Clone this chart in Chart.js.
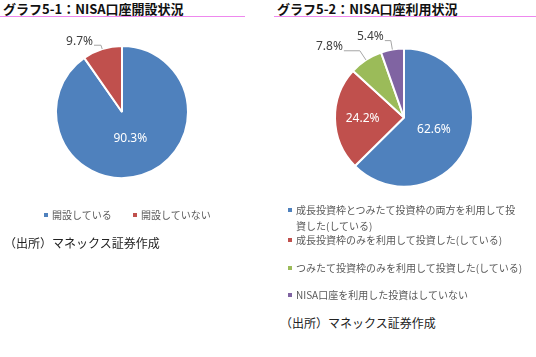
<!DOCTYPE html>
<html><head><meta charset="utf-8">
<script src="https://cdn.jsdelivr.net/npm/chart.js@4"></script>
<style>
body{margin:0;background:#fff;width:536px;height:357px;position:relative;overflow:hidden;font-family:"Noto Sans CJK JP",sans-serif;}
.title{position:absolute;top:0px;font-weight:bold;font-size:13px;color:#111;white-space:nowrap;line-height:18px;}
.rule{position:absolute;top:16px;height:1px;background:#ee88ee;}
.cv{position:absolute;}
.leg{position:absolute;font-size:10px;color:#595959;white-space:nowrap;line-height:14px;}
.mk{display:inline-block;width:4px;height:4px;margin-right:4px;vertical-align:middle;position:relative;top:-1px;}
.src{position:absolute;font-size:12px;color:#222;white-space:nowrap;}
</style></head>
<body>
<div class="title" style="left:3px">グラフ5-1：NISA口座開設状況</div>
<div class="rule" style="left:0;width:245px"></div>
<div class="title" style="left:277px">グラフ5-2：NISA口座利用状況</div>
<div class="rule" style="left:274px;width:262px"></div>
<div class="cv" style="left:0;top:25px;width:260px;height:190px"><canvas id="c1" width="260" height="190"></canvas></div>
<div class="cv" style="left:268px;top:25px;width:268px;height:180px"><canvas id="c2" width="268" height="180"></canvas></div>
<div id="leg1"></div>
<div id="leg2"></div>
<div class="src" style="left:4px;top:234px">（出所）マネックス証券作成</div>
<div class="src" style="left:280px;top:314px">（出所）マネックス証券作成</div>
<script>
const labels1 = ["開設している", "開設していない"];
const values1 = [90.3, 9.7];
const labels2 = ["成長投資枠とつみたて投資枠の両方を利用して投資した(している)", "成長投資枠のみを利用して投資した(している)", "つみたて投資枠のみを利用して投資した(している)", "NISA口座を利用した投資はしていない"];
const values2 = [62.6, 24.2, 7.8, 5.4];
const colors1 = ["#4F81BD", "#C0504D"];
const colors2 = ["#4F81BD", "#C0504D", "#9BBB59", "#8064A2"];

const pctPlugin = {
  id: 'pct',
  afterDatasetsDraw(chart, args, opts) {
    const ctx = chart.ctx;
    const meta = chart.getDatasetMeta(0);
    const data = chart.data.datasets[0].data;
    ctx.save();
    ctx.font = '12px "Noto Sans", "DejaVu Sans", sans-serif';
    meta.data.forEach((arc, i) => {
      const p = arc.getProps(['x','y','startAngle','endAngle','outerRadius'], true);
      const mid = (p.startAngle + p.endAngle) / 2;
      const dx = Math.cos(mid), dy = Math.sin(mid);
      const txt = data[i].toFixed(1) + '%';
      const cfg = opts.items[i];
      if (cfg.mode === 'in') {
        ctx.fillStyle = '#ffffff';
        ctx.textAlign = 'center';
        ctx.textBaseline = 'middle';
        ctx.fillText(txt, p.x + dx * p.outerRadius * cfg.f, p.y + dy * p.outerRadius * cfg.f);
      } else {
        const ex = p.x + dx * p.outerRadius, ey = p.y + dy * p.outerRadius;
        const bx = p.x + dx * (p.outerRadius + cfg.ext), by = p.y + dy * (p.outerRadius + cfg.ext);
        const hx = bx - cfg.h;
        ctx.strokeStyle = '#a6a6a6';
        ctx.lineWidth = 1;
        ctx.beginPath();
        ctx.moveTo(ex, ey); ctx.lineTo(bx, by); ctx.lineTo(hx, by);
        ctx.stroke();
        ctx.fillStyle = '#404040';
        ctx.textAlign = 'right';
        ctx.textBaseline = 'middle';
        ctx.fillText(txt, hx - 1, by - 4);
      }
    });
    ctx.restore();
  }
};

function makePie(id, labels, values, colors, radius, padding, items) {
  new Chart(document.getElementById(id), {
    type: 'pie',
    data: { labels: labels, datasets: [{ data: values, backgroundColor: colors, borderColor: '#ffffff', borderWidth: 2 }] },
    options: {
      responsive: false, animation: false, radius: radius,
      layout: { padding: padding },
      plugins: { legend: { display: false }, tooltip: { enabled: false }, pct: { items: items } }
    },
    plugins: [pctPlugin]
  });
}

makePie('c1', labels1, values1, colors1, 66, {left:56, right:72, top:21, bottom:37},
  [{mode:'in', f:0.42}, {mode:'out', ext:4, h:7}]);
makePie('c2', labels2, values2, colors2, 69, {left:67, right:63, top:23.5, bottom:18.5},
  [{mode:'in', f:0.47}, {mode:'in', f:0.6}, {mode:'out', ext:11, h:16}, {mode:'out', ext:9, h:6}]);

// legends
const leg1 = document.getElementById('leg1');
const pos1 = [44, 133];
labels1.forEach((l, i) => {
  const d = document.createElement('div');
  d.className = 'leg';
  d.style.left = (pos1[i]) + 'px'; d.style.top = '208px';
  d.innerHTML = '<span class="mk" style="background:' + colors1[i] + '"></span>' + l;
  leg1.appendChild(d);
});
const leg2 = document.getElementById('leg2');
const tops2 = [202, 232, 260, 287];
labels2.forEach((l, i) => {
  const d = document.createElement('div');
  d.className = 'leg';
  d.style.left = '288px'; d.style.top = tops2[i] + 'px';
  d.style.whiteSpace = 'normal'; d.style.width = '228px'; d.style.lineHeight = '16px';
  d.style.paddingLeft = '8px'; d.style.textIndent = '-8px';
  d.innerHTML = '<span class="mk" style="background:' + colors2[i] + '"></span>' + l;
  leg2.appendChild(d);
});
</script>
</body></html>
